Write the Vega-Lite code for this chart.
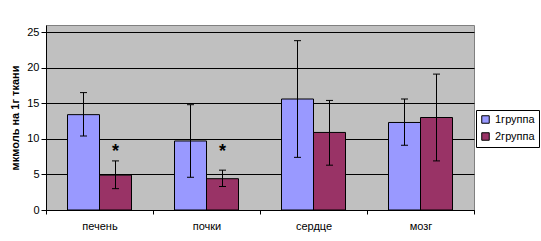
{
  "$schema": "https://vega.github.io/schema/vega-lite/v6.json",
  "width": 428,
  "height": 185,
  "autosize": "none",
  "padding": {"left": 46, "top": 25, "right": 67, "bottom": 31},
  "background": "white",
  "config": {
    "font": "Liberation Sans",
    "view": {"fill": "#C0C0C0", "stroke": "#808080", "strokeWidth": 1},
    "axisY": {
      "labelOverlap": false,
      "titleFontWeight": "bold", "titleFontSize": 11, "titleColor": "black", "titlePadding": 6,
      "grid": true, "gridColor": "black", "gridOpacity": 1,
      "domainColor": "black", "tickColor": "black", "tickSize": 5,
      "labelFontSize": 11, "labelColor": "black", "labelPadding": 2
    }
  },
  "datasets": {
    "bars": [
      {"organ": "печень", "group": "1группа", "mean": 13.4, "lo": 10.4, "hi": 16.5},
      {"organ": "печень", "group": "2группа", "mean": 4.9, "lo": 3.0, "hi": 6.9},
      {"organ": "почки", "group": "1группа", "mean": 9.7, "lo": 4.6, "hi": 14.8},
      {"organ": "почки", "group": "2группа", "mean": 4.4, "lo": 3.3, "hi": 5.6},
      {"organ": "сердце", "group": "1группа", "mean": 15.6, "lo": 7.4, "hi": 23.8},
      {"organ": "сердце", "group": "2группа", "mean": 10.9, "lo": 6.3, "hi": 15.4},
      {"organ": "мозг", "group": "1группа", "mean": 12.3, "lo": 9.1, "hi": 15.6},
      {"organ": "мозг", "group": "2группа", "mean": 13.0, "lo": 6.9, "hi": 19.1}
    ],
    "stars": [
      {"organ": "печень", "group": "2группа", "y": 8.7, "star": "*"},
      {"organ": "почки", "group": "2группа", "y": 8.7, "star": "*"}
    ]
  },
  "encoding": {
    "x": {
      "field": "organ", "type": "nominal",
      "sort": ["печень", "почки", "сердце", "мозг"],
      "scale": {"paddingInner": 0, "paddingOuter": 0},
      "axis": {
        "title": null, "labelAngle": 0, "tickBand": "extent", "grid": false,
        "domainColor": "black", "tickColor": "black", "tickSize": 4,
        "labelFontSize": 11, "labelColor": "black", "labelPadding": 6
      }
    },
    "xOffset": {
      "field": "group", "type": "nominal",
      "scale": {"paddingInner": 0, "paddingOuter": 0.671875}
    }
  },
  "layer": [
    {
      "data": {"name": "bars"},
      "mark": {"type": "bar", "stroke": "black", "strokeWidth": 1},
      "encoding": {
        "y": {
          "field": "mean", "type": "quantitative",
          "scale": {"domain": [0, 25]},
          "axis": {"values": [0, 5, 10, 15, 20, 25], "title": "мкмоль на 1г ткани"}
        },
        "color": {
          "field": "group", "type": "nominal",
          "scale": {"domain": ["1группа", "2группа"], "range": ["#9999FF", "#993366"]},
          "legend": {
            "title": null, "orient": "none", "legendX": 430, "legendY": 85,
            "strokeColor": "black", "fillColor": "white", "padding": 4,
            "symbolType": "square", "symbolStrokeColor": "black", "symbolStrokeWidth": 1,
            "symbolSize": 56, "labelFontSize": 11, "labelColor": "black", "rowPadding": 4
          }
        }
      }
    },
    {
      "data": {"name": "bars"},
      "mark": {"type": "rule", "color": "black", "strokeWidth": 1},
      "encoding": {
        "y": {"field": "lo", "type": "quantitative", "axis": {"values": [0, 5, 10, 15, 20, 25], "title": "мкмоль на 1г ткани"}},
        "y2": {"field": "hi"}
      }
    },
    {
      "data": {"name": "bars"},
      "mark": {"type": "tick", "color": "black", "size": 7, "thickness": 1, "opacity": 1},
      "encoding": {"y": {"field": "hi", "type": "quantitative", "axis": {"values": [0, 5, 10, 15, 20, 25], "title": "мкмоль на 1г ткани"}}}
    },
    {
      "data": {"name": "bars"},
      "mark": {"type": "tick", "color": "black", "size": 7, "thickness": 1, "opacity": 1},
      "encoding": {"y": {"field": "lo", "type": "quantitative", "axis": {"values": [0, 5, 10, 15, 20, 25], "title": "мкмоль на 1г ткани"}}}
    },
    {
      "data": {"name": "stars"},
      "mark": {"type": "text", "fontSize": 18, "fontWeight": "bold", "color": "black", "baseline": "middle", "dy": 4},
      "encoding": {
        "y": {"field": "y", "type": "quantitative", "axis": {"values": [0, 5, 10, 15, 20, 25], "title": "мкмоль на 1г ткани"}},
        "text": {"field": "star"}
      }
    }
  ]
}
